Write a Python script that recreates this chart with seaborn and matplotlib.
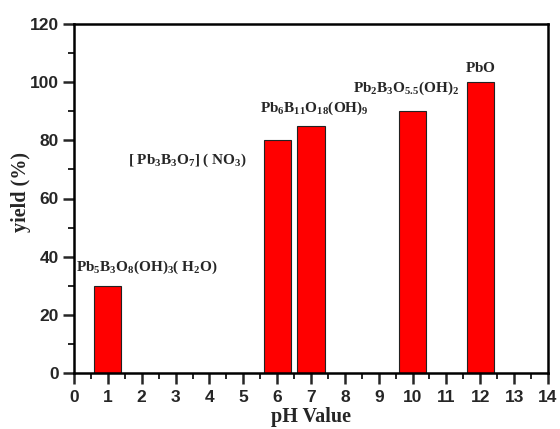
import matplotlib
matplotlib.use("Agg")
import matplotlib.pyplot as plt
import seaborn as sns
import pandas as pd
from matplotlib.ticker import MultipleLocator

ph = [1, 6, 7, 10, 12]
yields = [30, 80, 85, 90, 100]
labels = [r"$\mathbf{Pb_5B_3O_8(OH)_3(\ H_2O)}$",
          r"$\mathbf{[\ Pb_3B_3O_7]\ (\ NO_3)}$",
          r"$\mathbf{Pb_6B_{11}O_{18}(OH)_9}$",
          r"$\mathbf{Pb_2B_3O_{5.5}(OH)_2}$",
          r"$\mathbf{PbO}$"]
xticks = list(range(0, 15))
yticks = [0, 20, 40, 60, 80, 100, 120]

sns.set_theme(style="white")
plt.rcParams['mathtext.fontset'] = 'custom'
plt.rcParams['mathtext.rm'] = 'Liberation Serif'
plt.rcParams['mathtext.bf'] = 'Liberation Serif:bold'
plt.rcParams['mathtext.it'] = 'Liberation Serif:italic'

df = pd.DataFrame({"pH": ph, "yield": yields})

fig = plt.figure(figsize=(5.6, 4.29), dpi=100)
ax = fig.add_axes([74/560, 1-373/429, (548-74)/560, (373-24)/429])
sns.barplot(data=df, x="pH", y="yield", native_scale=True, width=0.8,
            color="#ff0000", saturation=1, edgecolor="#222222", linewidth=0.8, ax=ax)

ax.set_xlim(0, 14)
ax.set_ylim(0, 120)
ax.set_xticks(xticks)
ax.set_yticks(yticks)
ax.xaxis.set_minor_locator(MultipleLocator(0.5))
ax.yaxis.set_minor_locator(MultipleLocator(10))
ax.tick_params(axis='both', which='major', direction='out', length=8, width=1.8,
               bottom=True, left=True, top=False, right=False, pad=3)
ax.tick_params(axis='x', which='major', pad=4.5)
ax.tick_params(axis='both', which='minor', direction='out', length=4.5, width=1.4,
               bottom=True, left=True, top=False, right=False)
for lab in ax.get_xticklabels() + ax.get_yticklabels():
    lab.set_fontfamily('Liberation Sans')
    lab.set_fontweight('bold')
    lab.set_fontsize(12.5)
for s in ax.spines.values():
    s.set_linewidth(1.8)
    s.set_color('black')

ax.set_xlabel("pH Value", fontfamily='Liberation Serif', fontweight='bold', fontsize=14.5, labelpad=1.5)
ax.set_ylabel("yield (%)", fontfamily='Liberation Serif', fontweight='bold', fontsize=14.5)
ax.yaxis.set_label_coords(-0.09, 0.52)

pos = [(0.05, 36.5, 'left'), (5.1, 73.2, 'right'), (5.5, 91.0, 'left'), (8.25, 98.0, 'left'), (12.0, 105.2, 'center')]
for (x, y, ha), t in zip(pos, labels):
    ax.text(x, y, t, ha=ha, va='center', fontsize=11)

fig.savefig("out.png", dpi=100)
